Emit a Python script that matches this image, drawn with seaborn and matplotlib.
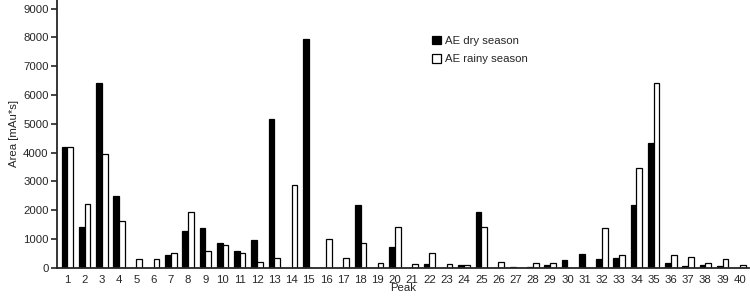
import matplotlib
matplotlib.use("Agg")
import matplotlib.pyplot as plt
import seaborn as sns
import pandas as pd

# peak numbers and peak areas for both seasons
peaks = list(range(1, 41))
dry = [4200, 1420, 6420, 2480, 0, 0, 450, 1280, 1400, 880,
       590, 980, 5180, 0, 7940, 0, 0, 2200, 0, 720,
       0, 150, 0, 100, 1950, 0, 30, 20, 90, 280,
       490, 320, 360, 2180, 4320, 180, 60, 90, 80, 0]
rainy = [4180, 2220, 3970, 1630, 310, 300, 500, 1950, 580, 780,
         510, 200, 340, 2880, 0, 1010, 360, 870, 160, 1420,
         140, 510, 120, 100, 1420, 220, 0, 180, 180, 0,
         0, 1380, 460, 3460, 6430, 460, 380, 180, 320, 90]
series = ["AE dry season", "AE rainy season"]

df = pd.DataFrame({
    "Peak": [str(p) for p in peaks] * 2,
    "Area": dry + rainy,
    "Season": [series[0]] * len(peaks) + [series[1]] * len(peaks),
})

sns.set_style("ticks")
plt.rcParams['font.family'] = ['Liberation Sans', 'DejaVu Sans']

fig = plt.figure(figsize=(7.5, 2.98), dpi=100)
ax = fig.add_axes([0.076, 0.101, 0.922, 0.899])
sns.barplot(data=df, x="Peak", y="Area", hue="Season",
            palette={series[0]: "black", series[1]: "white"},
            edgecolor="black", linewidth=0.9, width=0.66, ax=ax)

ax.set_ylim(0, 9300)
ax.set_xlim(-0.6, 39.5)
ax.set_yticks(range(0, 9001, 1000))
ax.tick_params(axis="y", labelsize=8.2, length=4, width=1.2, pad=2)
ax.tick_params(axis="x", labelsize=8.2, length=0, pad=5)
ax.set_xlabel("Peak", fontsize=8.2, labelpad=-1)
ax.set_ylabel("Area [mAu*s]", fontsize=8.2, labelpad=3)
sns.despine(ax=ax)
for s in ["left", "bottom"]:
    ax.spines[s].set_linewidth(1.3)

leg = ax.legend(loc="upper left", bbox_to_anchor=(0.527, 0.905), frameon=False,
                fontsize=8.2, handlelength=0.8, handleheight=0.8,
                handletextpad=0.4, labelspacing=0.7)

fig.savefig("out.png", dpi=100)
